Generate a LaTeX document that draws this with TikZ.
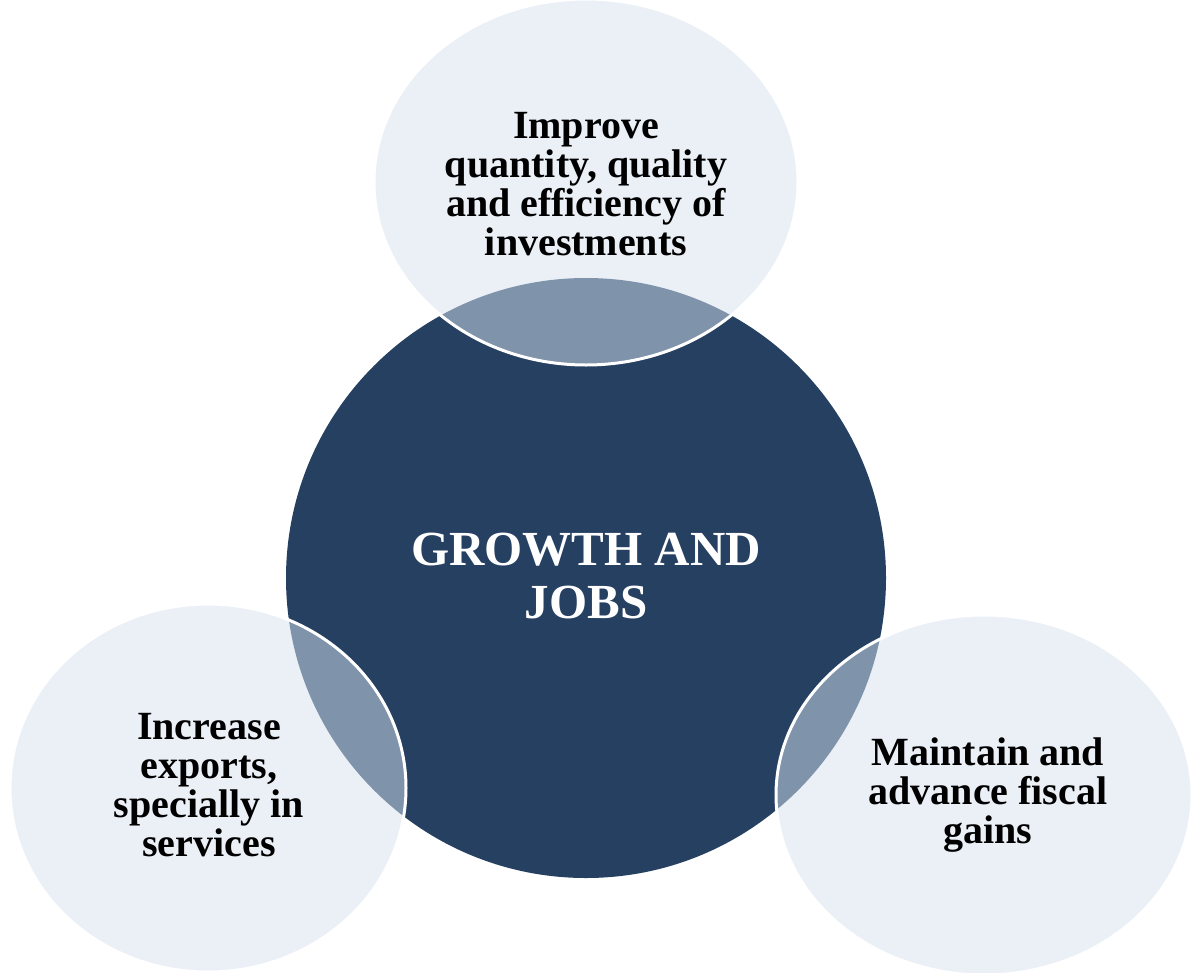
\documentclass[tikz,border=0pt]{standalone}
\usepackage{fontspec}
\setmainfont{Liberation Serif}
\definecolor{jobsblue}{HTML}{264062}
\definecolor{bubblefill}{HTML}{EBF0F7}
\definecolor{lensfill}{HTML}{7F93AB}
\begin{document}
\begin{tikzpicture}[x=1pt, y=-1pt, line join=round, line cap=round,
  bubbletext/.style={align=center, inner sep=0pt, font=\bfseries\fontsize{40}{39}\selectfont},
  coretext/.style={align=center, inner sep=0pt, text=white, font=\bfseries\fontsize{49}{53}\selectfont}]
			\useasboundingbox (0,0) rectangle (1191,972);
			\fill[jobsblue] (586,578) circle (300pt);
			\foreach \cx/\cy/\rx/\ry in {586/182/212/183, 208/788/198/184, 984/795/208/180} {
				\fill[bubblefill] (\cx,\cy) ellipse [x radius=\rx pt, y radius=\ry pt];
				\begin{scope}
					\clip (\cx,\cy) ellipse [x radius=\rx pt, y radius=\ry pt];
					\fill[lensfill] (586,578) circle (300pt);
				\end{scope}
				\draw[white, line width=3pt] (\cx,\cy) ellipse [x radius=\rx pt, y radius=\ry pt];
			}
			\node[coretext] (core) at (586,576) {GROWTH AND\\JOBS};
			\node[bubbletext] (invest) at (586,184) {Improve\\quantity, quality\\and efficiency of\\investments};
			\node[bubbletext] (exports) at (209,785) {Increase\\exports,\\specially in\\services};
			\node[bubbletext] (fiscal) at (988,795) {Maintain and\\advance fiscal\\gains};
		\end{tikzpicture}
\end{document}
